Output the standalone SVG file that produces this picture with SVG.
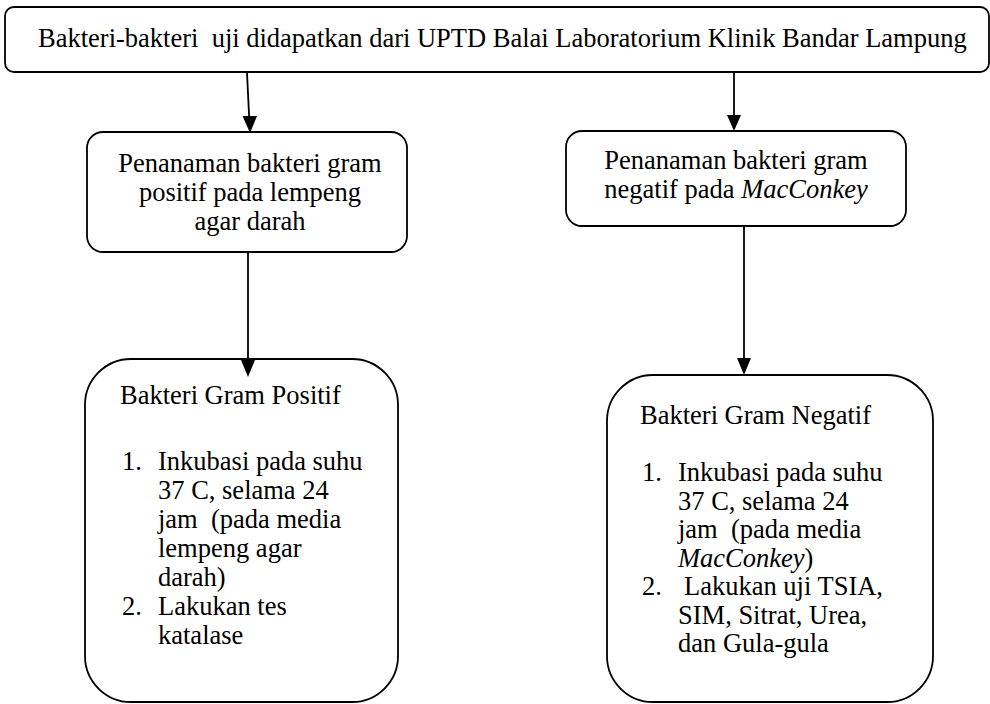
<svg xmlns="http://www.w3.org/2000/svg" width="990" height="704" viewBox="0 0 990 704">
<defs>
<style>
.box{fill:#fff;stroke:#000;stroke-width:1.8}
.t{font-family:"Liberation Serif","Times New Roman",serif;font-size:26.5px;fill:#000}
.c{text-anchor:middle}
.ln{stroke:#000;stroke-width:1.8;fill:none}
.ah{fill:#000}
</style>
</defs>
<rect width="990" height="704" fill="#fff"/>
<g id="n1">
<rect class="box" x="5" y="7" width="984" height="65" rx="9"/>
<text class="t" x="38" y="47" xml:space="preserve">Bakteri-bakteri  uji didapatkan dari UPTD Balai Laboratorium Klinik Bandar Lampung</text>
</g>
<g id="n2">
<rect class="box" x="87" y="132" width="320" height="120" rx="16"/>
<text class="t c" x="250" y="172">Penanaman bakteri gram</text>
<text class="t c" x="250" y="201">positif pada lempeng</text>
<text class="t c" x="250" y="230">agar darah</text>
</g>
<g id="n3">
<rect class="box" x="566" y="131" width="340" height="95" rx="16"/>
<text class="t c" x="736" y="169">Penanaman bakteri gram</text>
<text class="t c" x="736" y="198">negatif pada <tspan font-style="italic">MacConkey</tspan></text>
</g>
<g id="n4">
<rect class="box" x="85" y="359" width="313" height="343" rx="46"/>
<text class="t" x="120" y="404">Bakteri Gram Positif</text>
<text class="t" x="122" y="470">1.</text>
<text class="t" x="158" y="470">Inkubasi pada suhu</text>
<text class="t" x="158" y="499">37 C, selama 24</text>
<text class="t" x="158" y="528" xml:space="preserve">jam  (pada media</text>
<text class="t" x="158" y="557">lempeng agar</text>
<text class="t" x="158" y="586">darah)</text>
<text class="t" x="122" y="615">2.</text>
<text class="t" x="158" y="615">Lakukan tes</text>
<text class="t" x="158" y="644">katalase</text>
</g>
<g id="n5">
<rect class="box" x="607" y="375" width="326" height="327" rx="46"/>
<text class="t" x="640" y="424">Bakteri Gram Negatif</text>
<text class="t" x="642" y="481">1.</text>
<text class="t" x="678" y="481">Inkubasi pada suhu</text>
<text class="t" x="678" y="509.5">37 C, selama 24</text>
<text class="t" x="678" y="538" xml:space="preserve">jam  (pada media</text>
<text class="t" x="678" y="566.5"><tspan font-style="italic">MacConkey</tspan>)</text>
<text class="t" x="642" y="595">2.</text>
<text class="t" x="684" y="595">Lakukan uji TSIA,</text>
<text class="t" x="678" y="623.5">SIM, Sitrat, Urea,</text>
<text class="t" x="678" y="652">dan Gula-gula</text>
</g>
<g id="edges">
<line class="ln" x1="247" y1="73" x2="249.3" y2="120"/>
<path class="ah" d="M242.6,116 L257,116 L250,133 z"/>
<line class="ln" x1="734" y1="73" x2="734" y2="118"/>
<path class="ah" d="M727,115 L741,115 L734,131 z"/>
<line class="ln" x1="248" y1="252" x2="248" y2="362"/>
<path class="ah" d="M241,360 L255,360 L248,377 z"/>
<line class="ln" x1="744" y1="226" x2="744" y2="360"/>
<path class="ah" d="M737,358 L751,358 L744,375 z"/>
</g>
</svg>
